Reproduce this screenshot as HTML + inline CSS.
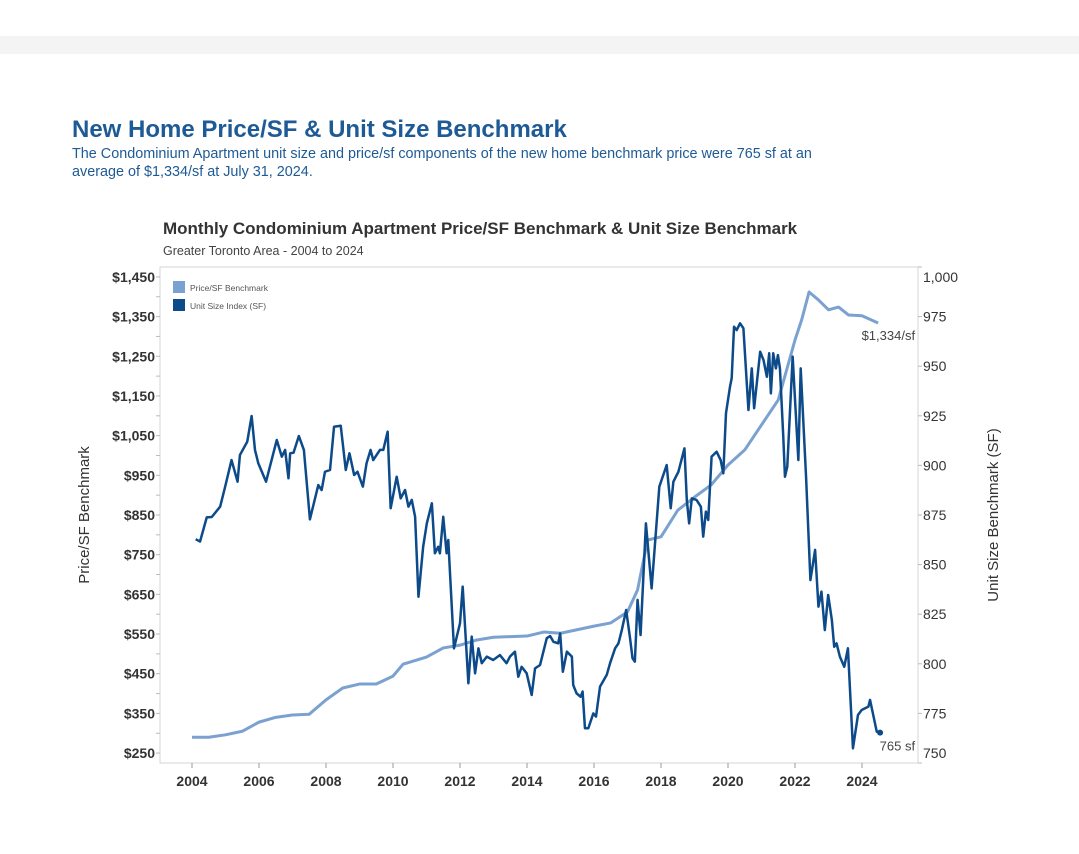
<!DOCTYPE html>
<html><head><meta charset="utf-8"><style>
body{margin:0;width:1079px;height:854px;background:#fff;font-family:"Liberation Sans",sans-serif;position:relative;overflow:hidden}
.t{position:absolute;white-space:nowrap}
</style></head><body>
<div style="position:absolute;left:0;top:36px;width:1079px;height:18px;background:#f4f4f4"></div>
<div class="t" style="left:72px;top:116px;font-size:24px;font-weight:bold;color:#1e5a96">New Home Price/SF &amp; Unit Size Benchmark</div>
<div class="t" style="left:72px;top:145px;font-size:14.4px;line-height:18px;color:#1e5a96">The Condominium Apartment unit size and price/sf components of the new home benchmark price were 765 sf at an<br>average of $1,334/sf at July 31, 2024.</div>
<div class="t" style="left:163px;top:219px;font-size:17px;font-weight:bold;color:#333">Monthly Condominium Apartment Price/SF Benchmark &amp; Unit Size Benchmark</div>
<div class="t" style="left:163px;top:244px;font-size:12.5px;color:#444">Greater Toronto Area - 2004 to 2024</div>
<svg id="c" width="1079" height="854" style="position:absolute;left:0;top:0" font-family="Liberation Sans, sans-serif"></svg>
<script>
const priceYears=[2004.0,2004.5,2005.0,2005.5,2006.0,2006.5,2007.0,2007.5,2008.0,2008.5,2009.0,2009.5,2010.0,2010.3,2011.0,2011.5,2012.0,2012.5,2013.0,2014.0,2014.5,2015.0,2016.0,2016.5,2017.0,2017.3,2017.6,2018.0,2018.5,2019.0,2019.5,2020.0,2020.5,2021.0,2021.5,2022.0,2022.2,2022.42,2022.7,2023.0,2023.3,2023.6,2024.0,2024.48];
const priceValues=[290,290,296,305,328,340,346,348,384,414,424,424,444,474,492,515,522,535,542,545,555,552,570,578,606,661,787,795,862,895,926,976,1014,1077,1140,1291,1342,1412,1392,1367,1374,1354,1352,1334];
const unitYears=[2004.11,2004.24,2004.44,2004.59,2004.84,2004.99,2005.18,2005.36,2005.43,2005.65,2005.78,2005.88,2005.98,2006.21,2006.53,2006.68,2006.78,2006.88,2006.93,2007.03,2007.19,2007.34,2007.52,2007.77,2007.87,2007.97,2008.12,2008.24,2008.44,2008.59,2008.70,2008.84,2008.94,2009.10,2009.21,2009.33,2009.41,2009.61,2009.71,2009.84,2009.93,2010.11,2010.23,2010.36,2010.46,2010.56,2010.66,2010.76,2010.90,2011.01,2011.16,2011.25,2011.35,2011.40,2011.50,2011.60,2011.65,2011.82,2012.00,2012.08,2012.25,2012.35,2012.45,2012.55,2012.65,2012.80,2012.99,2013.19,2013.39,2013.49,2013.64,2013.74,2013.84,2013.99,2014.14,2014.24,2014.39,2014.59,2014.69,2014.79,2014.93,2014.99,2015.07,2015.19,2015.34,2015.38,2015.48,2015.60,2015.66,2015.73,2015.83,2015.98,2016.06,2016.18,2016.38,2016.48,2016.63,2016.73,2016.83,2016.96,2017.07,2017.15,2017.22,2017.30,2017.39,2017.55,2017.72,2017.95,2018.17,2018.29,2018.37,2018.52,2018.70,2018.77,2018.84,2018.92,2019.06,2019.19,2019.26,2019.34,2019.41,2019.51,2019.66,2019.78,2019.86,2019.94,2020.06,2020.11,2020.18,2020.26,2020.36,2020.46,2020.61,2020.71,2020.78,2020.96,2021.06,2021.16,2021.23,2021.28,2021.35,2021.43,2021.49,2021.55,2021.65,2021.70,2021.77,2021.93,2022.10,2022.17,2022.33,2022.46,2022.60,2022.70,2022.79,2022.89,2022.99,2023.10,2023.17,2023.24,2023.34,2023.47,2023.58,2023.73,2023.88,2023.99,2024.19,2024.24,2024.44,2024.54];
const unitValues=[862.8,861.6,873.8,874,879.2,889.3,902.7,891.8,905.2,912,924.9,907.8,901,891.8,912.8,904.4,907.8,893.5,906.1,906.4,914.8,907.8,872.8,890.1,887.6,896.8,897.7,919.5,920,897.7,906.1,895.2,896.8,889.3,901,907.8,902.7,907.8,907.8,917,878.4,894.3,883.4,887.6,879.2,882.6,874.1,833.8,859,870.8,880.9,855.7,859,855.7,874.1,855.7,862.4,807.8,820.4,838.9,790.2,813.7,795.2,807.8,800.3,803.6,801.9,804.4,800.3,803.6,806.1,793.5,798.5,795.2,784.3,797.7,799.4,812.9,814,811.1,810.3,815.3,796,806.1,803.6,789.3,785.1,783.4,786,767.5,767.5,775,773.4,788.5,794.4,800.3,807.8,810.3,817,827.1,813.7,802.8,801.1,832.2,814.5,870.8,838,889.3,900.2,878.4,891.8,896.8,908.6,882.6,870.8,883.4,882.6,879.2,864.1,876.7,872.5,904.4,906.9,902.7,896,926.3,939.7,943.9,969.9,968.2,971.6,969.1,927.9,948.9,928.8,957.3,953.1,944.7,956.5,936.3,956.5,948.9,955.6,948.9,914.5,894.3,899.4,954.8,902.7,948.9,894.3,842.2,857.4,828.8,836.4,817,834.7,822.1,808.6,810.3,803.6,798.5,807.8,757.4,774.2,776.7,778.4,781.8,765.8,765.3];
const xTicks=[2004,2006,2008,2010,2012,2014,2016,2018,2020,2022,2024];
const leftTicks=[250,350,450,550,650,750,850,950,1050,1150,1250,1350,1450];
const rightTicks=[750,775,800,825,850,875,900,925,950,975,1000];

const svg=document.getElementById('c');const NS='http://www.w3.org/2000/svg';
const T=267,B=763,L=160,R=918;
const x=yr=>192+(yr-2004)*33.5;
const yL=v=>B-(v-225)/1250*(B-T);
const yR=v=>B-(v-750)/250*(B-T);
function mk(tag,a){const e=document.createElementNS(NS,tag);for(const k in a)e.setAttribute(k,a[k]);svg.appendChild(e);return e;}
let e=mk('rect',{x:L,y:T,width:R-L,height:B-T,fill:'none',stroke:'#d4d4d4'});


xTicks.forEach(t=>{mk('line',{x1:x(t),x2:x(t),y1:B,y2:B+5,stroke:'#999'});
 const tx=mk('text',{x:x(t),y:786,'text-anchor':'middle','font-size':14,'font-weight':'bold',fill:'#333'});tx.textContent=t;
 
 });
leftTicks.forEach(t=>{const tx=mk('text',{x:155,y:yL(t)+5,'text-anchor':'end','font-size':14,'font-weight':'bold',fill:'#333'});tx.textContent='$'+t.toLocaleString('en-US');
 
 });
for(let v=250;v<=1450;v+=50){mk('line',{x1:L-4,x2:L,y1:yL(v),y2:yL(v),stroke:'#bbb'});}
rightTicks.forEach(t=>{let yy=Math.min(Math.max(yR(t),277),753);mk('line',{x1:R,x2:R+4,y1:yR(t),y2:yR(t),stroke:'#bbb'});
 const tx=mk('text',{x:923,y:yy+5,'font-size':14,fill:'#333'});tx.textContent=t.toLocaleString('en-US');
 
 });
e=mk('text',{x:0,y:0,transform:'translate(89,515) rotate(-90)','text-anchor':'middle','font-size':15,fill:'#333'});e.textContent='Price/SF Benchmark';


e=mk('text',{x:0,y:0,transform:'translate(998,515) rotate(-90)','text-anchor':'middle','font-size':15,fill:'#333'});e.textContent='Unit Size Benchmark (SF)';


e=mk('polyline',{points:priceYears.map((t,i)=>x(t)+','+yL(priceValues[i])).join(' '),fill:'none',stroke:'#7ba1d0','stroke-width':3,'stroke-linejoin':'round'});


e=mk('polyline',{points:unitYears.map((t,i)=>x(t)+','+yR(unitValues[i])).join(' '),fill:'none',stroke:'#0c4a8a','stroke-width':2.5,'stroke-linejoin':'round'});


const n=unitYears.length-1;
e=mk('circle',{cx:x(unitYears[n]),cy:yR(unitValues[n]),r:3,fill:'#0c4a8a'});


const m=priceYears.length-1;
e=mk('text',{x:x(priceYears[m])+37,y:yL(priceValues[m])+17,'text-anchor':'end','font-size':13,fill:'#444'});e.textContent='$1,334/sf';


e=mk('text',{x:x(unitYears[n])+35,y:yR(unitValues[n])+18,'text-anchor':'end','font-size':13,fill:'#444'});e.textContent='765 sf';


[['#7ba1d0','Price/SF Benchmark',281],['#0c4a8a','Unit Size Index (SF)',299]].forEach(([c,l,yy])=>{
 const s=mk('rect',{x:173,y:yy,width:12,height:12,fill:c});
 
 
 const tx=mk('text',{x:190,y:yy+10,'font-size':8.5,fill:'#555'});tx.textContent=l;
 
 });
</script>
</body></html>
